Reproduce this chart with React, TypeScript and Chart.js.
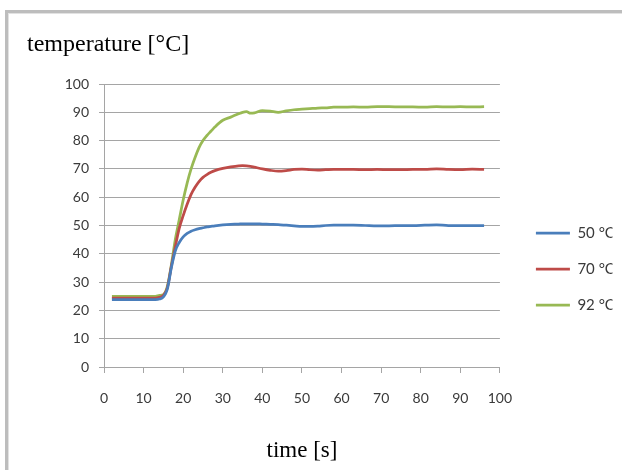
import React, { useEffect, useRef } from 'react';
import { Chart, registerables } from 'chart.js';

Chart.register(...registerables);

// time [s]
const TIME = [2, 4, 6, 8, 10, 12, 13, 14, 15, 16, 17, 18, 19, 20, 21, 22, 23, 24, 25, 26, 27, 28, 30, 32, 34, 35, 36, 37, 38, 40, 42, 44, 46, 48, 50, 52, 54, 56, 58, 60, 63, 66, 69, 72, 75, 78, 81, 84, 87, 90, 93, 96];

const T50 = [23.8, 23.8, 23.8, 23.8, 23.8, 23.8, 23.8, 24.0, 24.8, 27.5, 35.0, 41.0, 44.0, 46.0, 47.2, 48.0, 48.5, 48.9, 49.2, 49.5, 49.7, 49.9, 50.2, 50.4, 50.5, 50.6, 50.6, 50.6, 50.6, 50.5, 50.4, 50.3, 50.1, 49.9, 49.7, 49.7, 49.8, 50.0, 50.1, 50.1, 50.1, 50.0, 49.9, 49.9, 50.0, 50.0, 50.1, 50.2, 50.0, 50.0, 50.0, 50.0];

const T70 = [24.3, 24.3, 24.3, 24.3, 24.3, 24.3, 24.3, 24.6, 25.3, 28.0, 35.5, 42.5, 49.0, 53.5, 57.5, 61.0, 63.5, 65.5, 67.0, 68.0, 68.8, 69.4, 70.2, 70.7, 71.1, 71.2, 71.1, 70.9, 70.6, 70.0, 69.5, 69.2, 69.4, 69.8, 69.9, 69.7, 69.6, 69.7, 69.8, 69.8, 69.8, 69.7, 69.8, 69.7, 69.7, 69.8, 69.8, 70.0, 69.8, 69.7, 69.9, 69.8];

const T92 = [25.0, 25.0, 25.0, 25.0, 25.0, 25.0, 25.0, 25.3, 25.6, 28.5, 36.0, 45.0, 52.0, 59.0, 65.0, 70.0, 74.0, 77.5, 80.0, 81.8, 83.3, 84.8, 87.2, 88.3, 89.5, 90.0, 90.2, 89.7, 89.8, 90.6, 90.4, 90.0, 90.5, 90.9, 91.1, 91.3, 91.5, 91.6, 91.8, 91.8, 91.9, 91.8, 92.0, 92.0, 91.9, 91.9, 91.8, 92.0, 91.9, 92.0, 91.9, 92.0];

const SERIES_LABELS = ['50 °C', '70 °C', '92 °C'];
const SERIES_COLORS = ['#4a7ebb', '#be4b48', '#98b954'];
const SERIES_VALUES = [T50, T70, T92];

const Y_TITLE = 'temperature [°C]';
const X_TITLE = 'time [s]';

const TICK_FONT = { family: 'Lato, "Open Sans", sans-serif', size: 14 };
const GRID_COLOR = '#a5a5a5';
const TEXT_COLOR = '#3a3a3a';

export default function App() {
  const canvasRef = useRef<HTMLCanvasElement | null>(null);

  useEffect(() => {
    const ctx = canvasRef.current;
    if (!ctx) return;
    const datasets = SERIES_VALUES.map((vals, i) => ({
      label: SERIES_LABELS[i],
      data: TIME.map((t, j) => ({ x: t, y: vals[j] })),
      borderColor: SERIES_COLORS[i],
      backgroundColor: SERIES_COLORS[i],
      borderWidth: 2.75,
      pointRadius: 0,
      cubicInterpolationMode: 'monotone' as const,
      yAxisID: 'y',
    }));

    const chart = new Chart(ctx, {
      type: 'line',
      data: { datasets },
      options: {
        animation: false,
        responsive: true,
        maintainAspectRatio: false,
        layout: { padding: { left: 27, top: 0, right: 9.5, bottom: 0 } },
        plugins: {
          tooltip: { enabled: false },
          title: {
            display: true,
            text: Y_TITLE,
            align: 'start',
            color: '#000',
            font: { family: '"Liberation Serif", "Times New Roman", serif', size: 24, weight: 'normal' },
            padding: { top: 30, bottom: 25.2 },
          },
          legend: {
            position: 'right',
            align: 'center',
            title: { display: true, text: ' ', font: { size: 10 }, padding: { top: 56, bottom: 0 } },
            labels: {
              usePointStyle: true,
              pointStyle: 'line',
              pointStyleWidth: 34,
              color: TEXT_COLOR,
              font: { family: 'Lato, "Open Sans", sans-serif', size: 15 },
              padding: 21,
            },
          },
        },
        scales: {
          x: {
            type: 'linear',
            min: 0,
            max: 100,
            ticks: { stepSize: 10, font: TICK_FONT, color: TEXT_COLOR, padding: 17, maxRotation: 0 },
            grid: { drawOnChartArea: false, drawTicks: true, tickLength: 6, color: GRID_COLOR },
            border: { color: GRID_COLOR },
            title: {
              display: true,
              text: X_TITLE,
              color: '#000',
              font: { family: '"Liberation Serif", "Times New Roman", serif', size: 23 },
              padding: { top: 0, bottom: 5.5 },
            },
            afterFit: (s: any) => { s.height = 103; },
          },
          y: {
            type: 'linear',
            min: 0,
            max: 100,
            ticks: { stepSize: 10, font: TICK_FONT, color: TEXT_COLOR, padding: 10 },
            grid: { color: GRID_COLOR, tickLength: 5 },
            border: { color: GRID_COLOR },
            afterFit: (s: any) => { s.width = 77; },
          },
          y2: {
            type: 'linear',
            position: 'right',
            display: true,
            grid: { display: false },
            ticks: { display: false },
            border: { display: false },
            afterFit: (s: any) => { s.width = 15; },
          },
        },
      },
    });
    return () => chart.destroy();
  }, []);

  return (
    <div style={{ position: 'absolute', left: 0, top: 0, width: 622, height: 470, background: '#fff', overflow: 'hidden' }}>
      <div style={{ position: 'absolute', left: 5, top: 10, width: 640, height: 480, borderTop: '3px solid #bdbdbd', borderLeft: '3px solid #bdbdbd' }}>
        <div style={{ width: '100%', height: '100%', borderTop: '1px solid #e2e2e2', borderLeft: '1px solid #e2e2e2' }} />
      </div>
      <canvas ref={canvasRef} style={{ position: 'absolute', left: 0, top: 0 }} />
    </div>
  );
}
